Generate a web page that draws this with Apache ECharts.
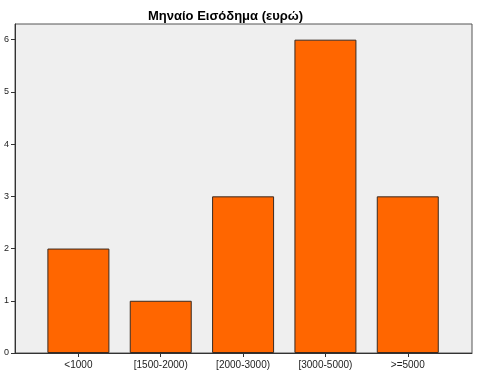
<!DOCTYPE html>
<html><head><meta charset="utf-8">
<script src="https://cdn.jsdelivr.net/npm/echarts@6/dist/echarts.min.js"></script>
<style>html,body{margin:0;padding:0;background:#fff}#c{width:479px;height:374px}</style>
</head><body><div id="c"></div>
<script>
var categories = ['<1000', '[1500-2000)', '[2000-3000)', '[3000-5000)', '>=5000'];
var counts = [2, 1, 3, 6, 3];
var yTicks = [0, 1, 2, 3, 4, 5, 6];
var title = 'Μηναίο Εισόδημα (ευρώ)';

var chart = echarts.init(document.getElementById('c'));
chart.setOption({
  animation: false,
  backgroundColor: '#ffffff',
  title: {
    text: title, left: 143, top: 5,
    textStyle: { fontFamily: 'Liberation Sans, Arial', fontSize: 13, fontWeight: 'bold', color: '#000' }
  },
  grid: {
    left: 15, right: 7, top: 24, bottom: 21,
    show: true, backgroundColor: '#efefef', borderColor: '#555', borderWidth: 1
  },
  xAxis: {
    type: 'value', min: -0.77, max: 4.78,
    splitLine: { show: false },
    axisLine: { show: true, onZero: false, lineStyle: { color: '#333', width: 1 } },
    axisTick: { show: true, length: 4, customValues: categories.map(function (c, i) { return i; }), lineStyle: { color: '#333' } },
    axisLabel: {
      customValues: categories.map(function (c, i) { return i; }),
      formatter: function (v) { return categories[Math.round(v)]; },
      fontFamily: 'Liberation Sans, Arial', fontSize: 10, color: '#222', margin: 7
    }
  },
  yAxis: {
    type: 'value', min: 0, max: 6.3,
    splitLine: { show: false },
    axisLine: { show: true, onZero: false, lineStyle: { color: '#333', width: 1 } },
    axisTick: { show: true, length: 4, customValues: yTicks, lineStyle: { color: '#333' } },
    axisLabel: { customValues: yTicks, fontFamily: 'Liberation Sans, Arial', fontSize: 9, color: '#222', margin: 6 }
  },
  series: [{
    type: 'bar',
    barWidth: 62,
    data: counts.map(function (v, i) { return [i, v]; }),
    itemStyle: { color: '#ff6600', borderColor: '#3a2a20', borderWidth: 1 }
  }]
});
</script></body></html>
